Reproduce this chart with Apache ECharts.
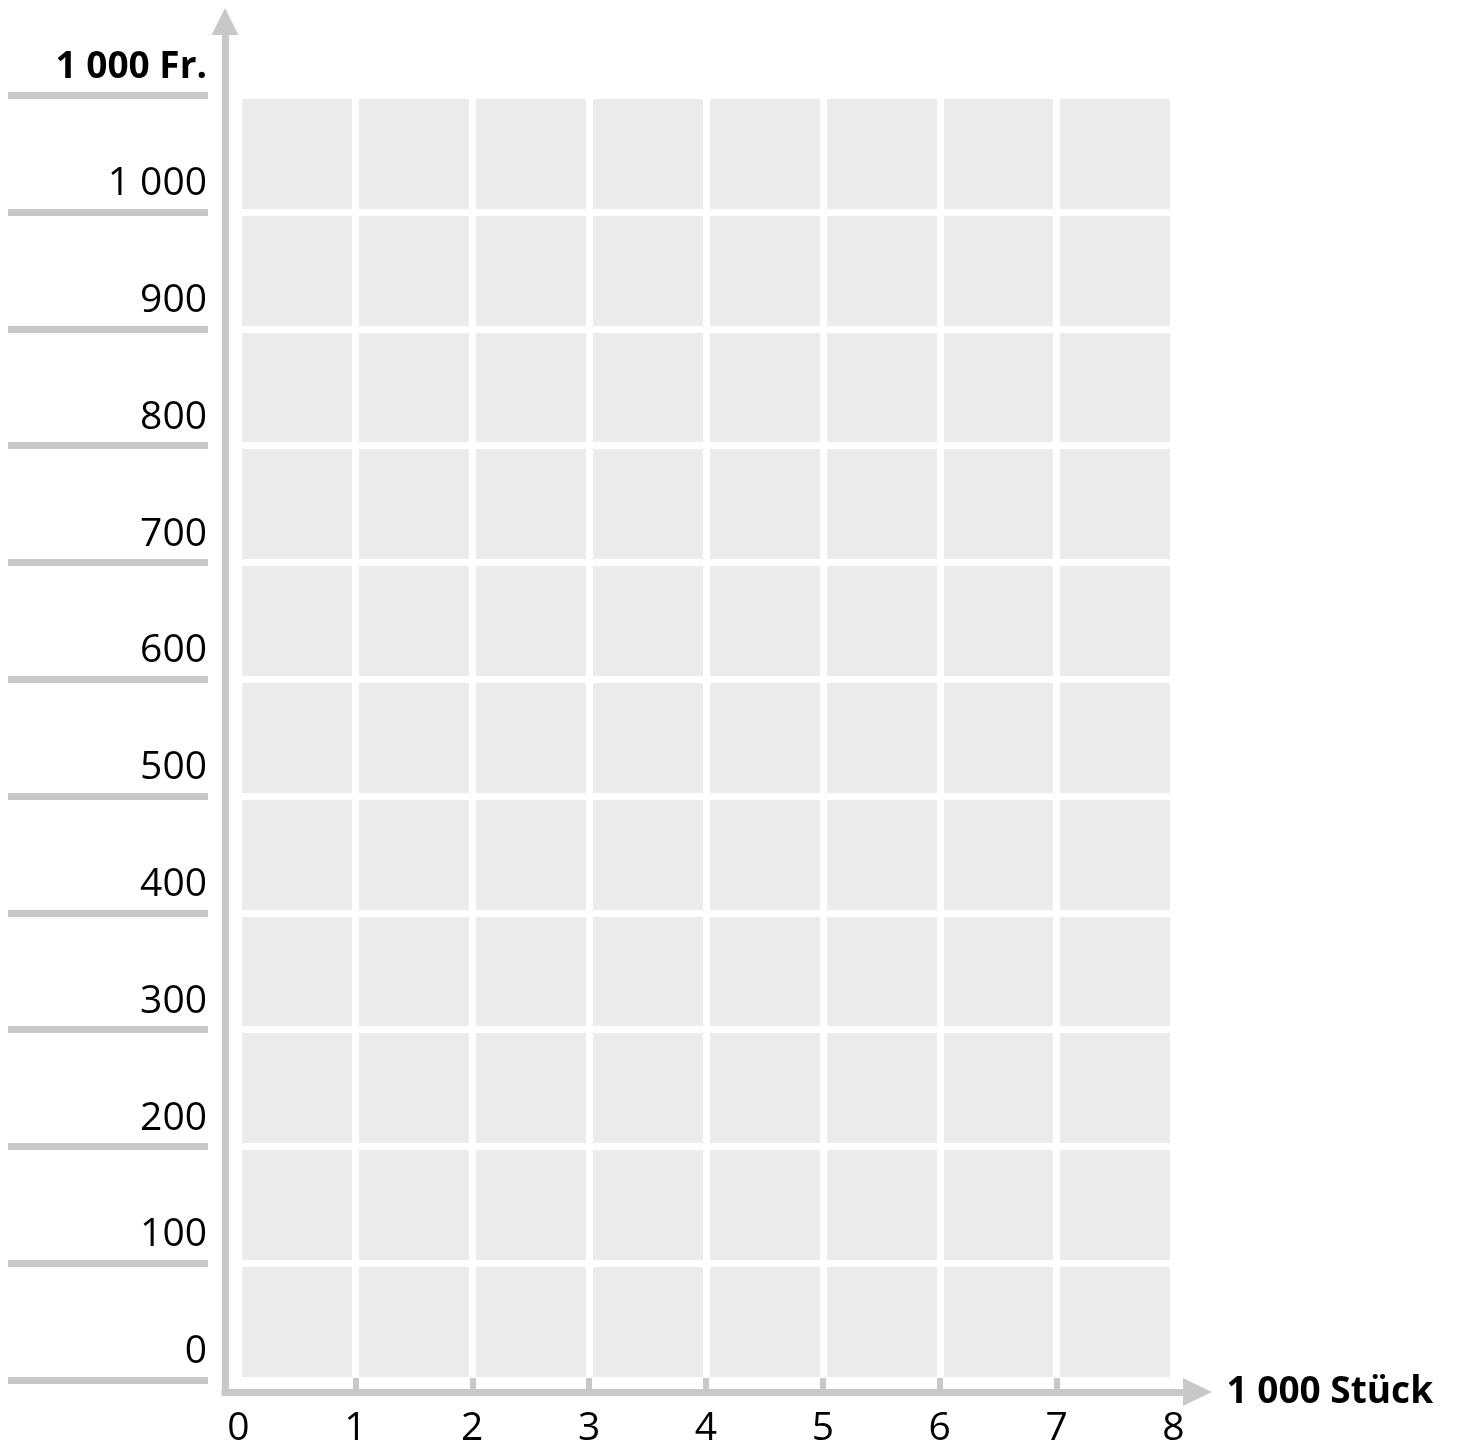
<!DOCTYPE html>
<html>
<head>
<meta charset="utf-8">
<script src="https://cdn.jsdelivr.net/npm/echarts@6/dist/echarts.min.js"></script>
<style>
html,body{margin:0;padding:0;background:#fff;}
#chart{width:1459px;height:1448px;}
</style>
</head>
<body>
<div id="chart"></div>
<script>
const xTicks = [0, 1, 2, 3, 4, 5, 6, 7, 8];
const xTickLabels = ['0', '1', '2', '3', '4', '5', '6', '7', '8'];
const xInnerTicks = [1, 2, 3, 4, 5, 6, 7];
const yTicks = [0, 100, 200, 300, 400, 500, 600, 700, 800, 900, 1000, 1100];
const yTickLabels = ['0', '100', '200', '300', '400', '500', '600', '700', '800', '900', '1 000', '1 000 Fr.'];
const xName = '1 000 Stück';

const gray = '#c8c8c8';
const cell = '#ebebeb';
const font = 'Open Sans';

const hidden = {show: false};
const chart = echarts.init(document.getElementById('chart'), null, {renderer: 'canvas'});
chart.setOption({
  backgroundColor: '#ffffff',
  animation: false,
  grid: [
    // 0: cells
    {left: 238.5, top: 95.2, width: 935, height: 1284.8, show: true, backgroundColor: cell, borderWidth: 0, containLabel: false},
    // 1: axis lines with arrows
    {left: 225, top: 21.5, width: 972.5, height: 1370.5, show: false, containLabel: false},
    // 2: left value rules and labels
    {left: 208, top: 95.2, width: 30.5, height: 1284.8, show: false, containLabel: false},
    // 3: x ticks and labels
    {left: 238.5, top: 95.2, width: 935, height: 1296.8, show: false, containLabel: false}
  ],
  xAxis: [
    {
      type: 'value', gridIndex: 0, min: 0, max: 8, interval: 1,
      axisLine: hidden, axisTick: hidden, axisLabel: hidden,
      splitLine: {show: true, lineStyle: {color: '#ffffff', width: 7}}
    },
    {
      type: 'value', gridIndex: 1, min: 0, max: 1,
      position: 'bottom',
      axisLine: {show: true, onZero: false, symbol: ['none', 'triangle'], symbolSize: [28, 29], lineStyle: {color: gray, width: 7, cap: 'square'}},
      axisTick: hidden, axisLabel: hidden, splitLine: hidden,
      name: xName, nameLocation: 'end', nameGap: 29,
      nameTextStyle: {fontFamily: font, fontSize: 37, fontWeight: 'bold', color: '#000', verticalAlign: 'middle', padding: [4, 0, 0, 0]}
    },
    {
      type: 'value', gridIndex: 2, min: 0, max: 1, show: false
    },
    {
      type: 'value', gridIndex: 3, min: 0, max: 8, interval: 1,
      position: 'bottom',
      axisLine: {show: false, onZero: false},
      axisTick: {show: true, inside: true, length: 14, customValues: xInnerTicks, lineStyle: {color: gray, width: 6}},
      axisLabel: {
        show: true, margin: 17, fontFamily: font, fontSize: 39, color: '#000',
        customValues: xTicks,
        formatter: v => xTickLabels[xTicks.indexOf(v)]
      },
      splitLine: hidden
    }
  ],
  yAxis: [
    {
      type: 'value', gridIndex: 0, min: 0, max: 1100, interval: 100,
      axisLine: hidden, axisTick: hidden, axisLabel: hidden,
      splitLine: {show: true, lineStyle: {color: '#ffffff', width: 7}}
    },
    {
      type: 'value', gridIndex: 1, min: 0, max: 1,
      position: 'left',
      axisLine: {show: true, onZero: false, symbol: ['none', 'triangle'], symbolSize: [27, 27], lineStyle: {color: gray, width: 7, cap: 'square'}},
      axisTick: hidden, axisLabel: hidden, splitLine: hidden
    },
    {
      type: 'value', gridIndex: 2, min: 0, max: 1100, interval: 100,
      position: 'left',
      axisLine: {show: false, onZero: false},
      axisTick: {show: true, inside: false, length: 200, lineStyle: {color: gray, width: 7}},
      axisLabel: {
        show: true, margin: 1, fontFamily: font, fontSize: 39, color: '#000',
        verticalAlign: 'middle', padding: [0, 0, 56, 0],
        formatter: v => {
          const i = yTicks.indexOf(v);
          return i === yTicks.length - 1 ? '{b|' + yTickLabels[i] + '}' : yTickLabels[i];
        },
        rich: {b: {fontFamily: font, fontSize: 37, fontWeight: 'bold', color: '#000'}}
      },
      splitLine: hidden
    },
    {
      type: 'value', gridIndex: 3, min: 0, max: 1, show: false
    }
  ],
  series: []
});
</script>
</body>
</html>
